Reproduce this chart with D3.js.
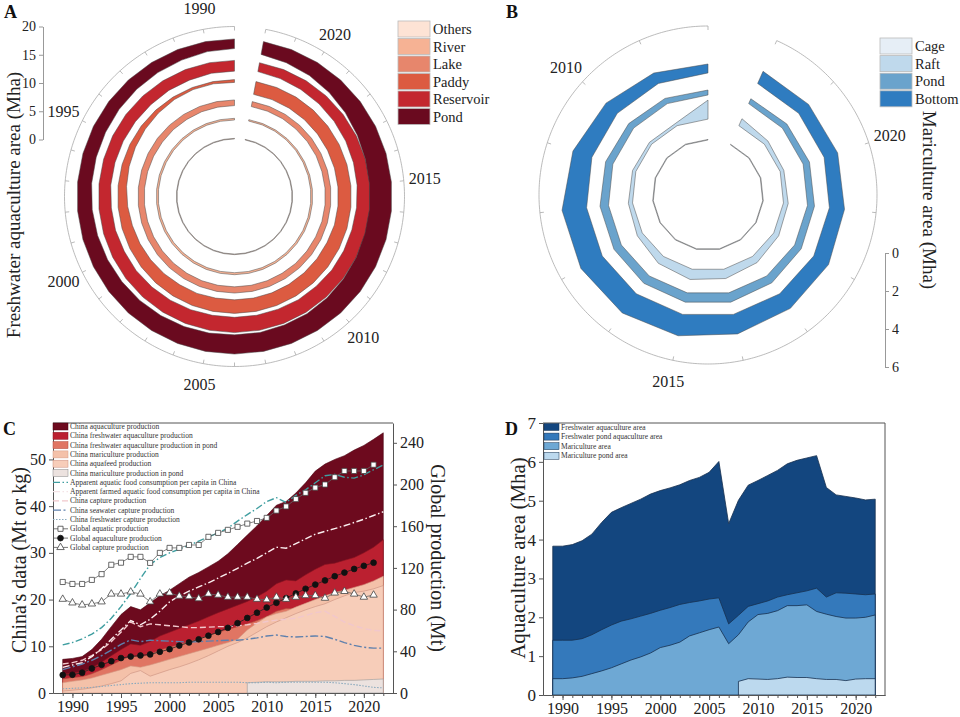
<!DOCTYPE html>
<html><head><meta charset="utf-8">
<script src="https://cdn.jsdelivr.net/npm/d3@7"></script>
<style>
body{margin:0;background:#fff}
svg{display:block}
text{font-family:"Liberation Serif","Times New Roman",Times,serif}
</style>
</head><body>
<svg id="chart" width="960" height="717"></svg>
<script>
// ================= DATA =================
// Panel A: freshwater aquaculture area by type (Mha), 1989-2022
const yearsA = [1989,1990,1991,1992,1993,1994,1995,1996,1997,1998,1999,2000,2001,2002,2003,2004,2005,2006,2007,2008,2009,2010,2011,2012,2013,2014,2015,2016,2017,2018,2019,2020,2021,2022];
const categoriesA = ['Others','River','Lake','Paddy','Reservoir','Pond'];
const aOthers    = [0.10,0.10,0.10,0.10,0.10,0.10,0.10,0.10,0.10,0.10,0.10,0.10,0.10,0.10,0.10,0.10,0.10,0.10,0.10,0.10,0.10,0.10,0.10,0.10,0.10,0.10,0.10,0.10,0.10,0.10,0.10,0.10,0.10,0.10];
const aRiver     = [0.30,0.30,0.30,0.30,0.32,0.32,0.33,0.33,0.34,0.34,0.35,0.35,0.35,0.35,0.35,0.35,0.35,0.35,0.34,0.34,0.33,0.33,0.33,0.32,0.32,0.31,0.31,0.30,0.29,0.28,0.27,0.26,0.25,0.25];
const aLake      = [1.00,1.00,1.00,1.05,1.05,1.10,1.10,1.10,1.10,1.10,1.10,1.10,1.10,1.10,1.10,1.10,1.10,1.10,1.10,1.10,1.10,1.05,1.05,1.05,1.00,1.00,1.00,1.00,0.95,0.95,0.95,0.90,0.90,0.90];
const aPaddy     = [0.50,0.40,0.40,0.50,0.70,0.90,1.10,1.30,1.50,1.70,1.90,2.00,2.10,2.20,2.30,2.30,2.40,2.40,2.40,2.40,2.40,2.40,2.40,2.40,2.30,2.30,2.30,2.30,2.30,2.30,2.30,2.30,2.30,2.30];
const aReservoir = [1.90,1.90,2.00,2.00,2.10,2.10,2.10,2.10,2.10,2.20,2.20,2.30,2.30,2.40,2.50,2.60,2.70,2.70,2.70,2.70,2.60,2.60,2.50,2.50,2.50,2.40,2.30,2.20,2.10,2.00,1.90,1.80,1.70,1.60];
const aPond      = [1.70,1.80,2.00,2.10,2.20,2.30,2.40,2.45,2.50,2.60,2.70,2.80,2.90,3.00,3.10,3.20,3.30,3.40,3.40,3.50,3.50,3.60,3.70,3.80,3.90,3.90,3.90,3.80,3.60,3.30,3.00,2.70,2.50,2.30];
const aRingOuter = [0.2, 3.75, 7.0, 10.6, 14.0, 17.8];   // fixed outer edge of each ring (Mha on radial scale)
const aRadialTicks = [0,5,10,15,20];
const aLabelYears = [1990,1995,2000,2005,2010,2015,2020];

// Panel B: mariculture area by type (Mha), 2008-2022
const yearsB = [2008,2009,2010,2011,2012,2013,2014,2015,2016,2017,2018,2019,2020,2021,2022];
const categoriesB = ['Cage','Raft','Pond','Bottom'];
const bCage   = [0.03,0.03,0.03,0.03,0.03,0.03,0.03,0.03,0.03,0.03,0.03,0.03,0.03,0.03,0.03];
const bRaft   = [1.00,0.15,0.15,0.18,0.22,0.30,0.45,0.55,0.50,0.40,0.30,0.25,0.20,0.25,0.40];
const bPond   = [0.26,0.30,0.35,0.40,0.45,0.45,0.48,0.50,0.50,0.45,0.40,0.37,0.35,0.32,0.28];
const bBottom = [0.47,0.60,0.80,1.05,1.30,1.30,1.25,1.15,1.05,0.95,0.90,0.80,0.75,0.70,0.70];
const bRingInner = [0, 1.1, 2.37, 3.53];
const bRadialTicks = [0,2,4,6];
const bLabelYears = [2010,2015,2020];

// Panel C: production (China: Mt or kg; global: Mt)
const yearsC = [1989,1990,1991,1992,1993,1994,1995,1996,1997,1998,1999,2000,2001,2002,2003,2004,2005,2006,2007,2008,2009,2010,2011,2012,2013,2014,2015,2016,2017,2018,2019,2020,2021,2022];
const cAquaculture = [7.2,7.4,7.8,9.3,11.5,14.2,16.8,18.5,17.8,19.3,20.8,22.0,23.4,24.8,25.8,27.0,28.2,29.8,31.8,33.8,35.8,38.0,40.2,41.0,42.8,45.0,47.5,49.0,50.0,50.8,52.0,53.0,54.3,55.7];
const cFreshwater  = [4.0,4.3,4.6,5.4,6.6,8.0,9.3,10.5,10.2,11.0,12.2,13.0,13.8,14.6,15.4,16.3,17.2,18.0,18.8,19.6,20.6,21.8,23.4,24.2,24.0,25.3,26.5,27.5,27.8,28.4,29.0,30.0,31.2,32.8];
const cFwPond      = [3.0,3.3,3.5,4.1,5.0,6.0,7.0,7.9,7.7,8.3,9.2,9.8,10.4,11.0,11.6,12.3,13.0,13.6,14.2,14.8,15.5,16.4,17.5,18.1,18.0,19.0,19.9,20.6,20.9,21.3,21.8,22.5,23.4,24.6];
const cMariculture = [2.2,2.5,2.8,3.2,3.8,4.4,5.0,5.8,5.5,6.0,6.6,7.2,7.8,8.4,9.0,9.6,10.2,10.8,11.5,13.5,15.0,16.3,17.0,17.5,18.4,19.2,20.0,20.8,21.5,22.0,22.6,23.2,24.0,25.0];
const cAquafeed    = [0.4,0.6,0.8,1.1,1.5,2.0,2.6,4.2,4.8,3.6,4.3,5.0,5.6,6.3,7.1,8.0,9.0,10.0,10.8,11.8,13.0,14.2,15.2,16.1,17.0,17.8,18.5,19.1,20.0,20.8,21.5,21.8,22.3,23.0];
const cMariPond    = [null,null,null,null,null,null,null,null,null,null,null,null,null,null,null,null,null,null,null,2.2,2.3,2.4,2.4,2.4,2.5,2.5,2.5,2.6,2.6,2.7,2.7,2.8,2.9,3.0];
const cAppCons     = [10.3,10.8,11.6,12.6,14.0,16.0,18.5,21.3,24.5,27.5,29.0,30.0,30.8,31.6,32.5,33.4,34.3,35.3,36.8,38.2,39.5,41.0,41.8,40.8,42.3,43.5,45.0,46.5,46.8,46.2,46.0,46.7,47.8,48.8];
const cAppFarmed   = [5.5,6.0,6.5,7.8,9.5,11.5,13.5,15.5,14.6,15.8,17.5,19.5,20.8,21.8,22.7,23.6,24.6,25.6,26.7,27.8,28.8,30.0,31.2,31.0,32.0,33.0,34.0,34.6,35.2,35.8,36.5,37.2,38.0,38.8];
const cCapture     = [6.2,6.5,7.0,8.0,9.3,11.0,13.0,15.2,14.2,14.8,14.6,14.4,14.2,14.0,14.0,14.1,14.2,14.2,14.4,14.6,14.9,15.3,15.6,15.8,16.0,16.6,17.2,17.5,16.4,15.2,14.4,13.8,13.4,13.3];
const cSeaCapture  = [5.0,5.6,6.2,7.0,8.0,9.2,10.4,11.4,11.0,11.3,11.2,11.1,11.0,10.9,11.0,11.1,11.2,11.3,11.3,11.5,11.8,12.2,12.4,12.1,12.0,12.1,12.2,12.1,11.5,10.8,10.2,9.8,9.6,9.6];
const cFwCapture   = [0.9,1.0,1.1,1.2,1.4,1.6,1.8,2.0,2.1,2.2,2.2,2.2,2.2,2.3,2.3,2.3,2.3,2.3,2.3,2.2,2.2,2.3,2.2,2.3,2.3,2.3,2.3,2.3,2.2,2.0,1.8,1.5,1.2,1.1];
const yearsGlobal  = [1989,1990,1991,1992,1993,1994,1995,1996,1997,1998,1999,2000,2001,2002,2003,2004,2005,2006,2007,2008,2009,2010,2011,2012,2013,2014,2015,2016,2017,2018,2019,2020,2021];
const gAquatic     = [106.5,104.6,104.6,108.5,114.0,123.0,125.0,130.6,130.6,124.8,134.4,139.2,139.2,142.0,142.0,149.8,153.6,156.5,159.4,162.5,165.0,168.0,175.0,179.0,186.0,192.0,197.0,200.0,207.0,213.0,213.0,213.0,219.0];
const gAquaculture = [17.3,17.5,19.5,23.5,27.0,30.5,33.5,35.0,36.0,37.0,39.5,42.0,45.5,48.5,51.5,55.0,58.5,62.5,67.0,72.0,77.0,82.0,86.5,91.0,95.5,100.0,104.0,108.0,112.0,115.5,119.0,122.0,125.0];
const gCapture     = [90.0,86.5,84.5,85.5,87.5,95.0,95.0,97.0,95.0,87.5,95.0,96.0,93.0,92.5,90.5,95.0,94.0,92.0,92.0,92.0,90.0,89.5,92.0,90.0,92.0,93.5,93.5,91.0,96.0,97.5,95.0,92.0,94.0];
const cLeftTicks  = [0,10,20,30,40,50];
const cRightTicks = [0,40,80,120,160,200,240];
const xTickYears  = [1990,1995,2000,2005,2010,2015,2020];

// Panel D: aquaculture area (Mha)
const yearsD = [1989,1990,1991,1992,1993,1994,1995,1996,1997,1998,1999,2000,2001,2002,2003,2004,2005,2006,2007,2008,2009,2010,2011,2012,2013,2014,2015,2016,2017,2018,2019,2020,2021,2022];
const dFreshwater  = [3.83,3.83,3.87,3.97,4.14,4.44,4.70,4.82,4.93,5.04,5.17,5.26,5.33,5.41,5.52,5.60,5.73,6.01,4.41,5.01,5.40,5.52,5.65,5.78,5.95,6.04,6.10,6.16,5.34,5.15,5.11,5.07,5.02,5.04];
const dFwPond      = [1.41,1.41,1.41,1.45,1.55,1.68,1.80,1.90,1.96,2.03,2.10,2.18,2.25,2.33,2.38,2.42,2.47,2.50,1.83,2.05,2.28,2.35,2.42,2.52,2.58,2.63,2.68,2.75,2.52,2.63,2.62,2.60,2.58,2.60];
const dMariculture = [0.42,0.42,0.44,0.48,0.55,0.62,0.70,0.80,0.90,0.98,1.08,1.22,1.28,1.36,1.52,1.60,1.68,1.75,1.32,1.55,1.88,2.07,2.10,2.17,2.30,2.30,2.32,2.15,2.08,2.02,1.98,1.98,2.00,2.06];
const dMariPond    = [null,null,null,null,null,null,null,null,null,null,null,null,null,null,null,null,null,null,null,0.35,0.42,0.41,0.40,0.42,0.46,0.45,0.45,0.42,0.40,0.40,0.37,0.41,0.42,0.42];
const dTicks = [0,1,2,3,4,5,6,7];

// ================= DRAWING =================
const svg = d3.select('#chart');
const TXT = '#222';
const fmtInt = d3.format('d');

function drawPolar(o) {
  const g = svg.append('g').attr('transform', `translate(${o.cx},${o.cy})`);
  const n = o.years.length, step = 2 * Math.PI / n;
  const ang = i => -i * step;
  const R = o.r(o.frameVal);
  const frame = d3.range(0, 401).map(k => -(n - 1) * step * k / 400);
  g.append('path').attr('d', d3.lineRadial().angle(a => a).radius(R)(frame))
    .attr('fill', 'none').attr('stroke', '#aaa').attr('stroke-width', 0.8);
  o.years.forEach((y, i) => {
    const a = ang(i);
    g.append('line')
      .attr('x1', (R - 4) * Math.sin(a)).attr('y1', -(R - 4) * Math.cos(a))
      .attr('x2', R * Math.sin(a)).attr('y2', -R * Math.cos(a))
      .attr('stroke', '#aaa').attr('stroke-width', 0.8);
  });
  o.series.forEach((vals, k) => {
    const area = d3.areaRadial().angle((d, i) => ang(i)).curve(d3.curveLinear);
    if (o.mode === 'outer') {
      area.outerRadius(() => o.r(o.bases[k])).innerRadius(d => o.r(o.bases[k] - d));
    } else {
      area.innerRadius(() => o.r(o.bases[k])).outerRadius(d => o.r(o.bases[k] + d));
    }
    g.append('path').attr('d', area(vals)).attr('fill', o.colors[k])
      .attr('stroke', '#4a4a4a').attr('stroke-width', 0.5);
  });
  o.labelYears.forEach(y => {
    const a = ang(o.years.indexOf(y));
    g.append('text').attr('x', o.labelR * Math.sin(a)).attr('y', -o.labelR * Math.cos(a))
      .attr('text-anchor', 'middle').attr('dominant-baseline', 'central')
      .attr('font-size', 16).attr('fill', TXT).text(y);
  });
}

function boxLegend(x, y0, dy, names, colors) {
  names.forEach((nm, i) => {
    svg.append('rect').attr('x', x).attr('y', y0 + i * dy).attr('width', 32).attr('height', 16)
      .attr('fill', colors[i]).attr('stroke', '#bbb').attr('stroke-width', 0.8);
    svg.append('text').attr('x', x + 35).attr('y', y0 + i * dy + 13).attr('font-size', 14.5)
      .attr('fill', TXT).text(nm);
  });
}

function styleAxis(g, fs) {
  g.selectAll('.domain').attr('stroke', '#555');
  g.selectAll('.tick line').attr('stroke', '#555');
  g.selectAll('.tick text').attr('font-size', fs).attr('fill', TXT)
    .attr('font-family', '"Liberation Serif","Times New Roman",serif');
  return g;
}

// ---------- Panel A ----------
const colorsA = ['#fde3d5', '#f6b294', '#e7866c', '#dc5b41', '#c3272f', '#6a0a1f'];
const rA = d3.scaleLinear([0, 20], [57, 170]);
drawPolar({cx: 234.5, cy: 196.5, years: yearsA, r: rA, frameVal: 20, mode: 'outer',
  series: [aOthers, aRiver, aLake, aPaddy, aReservoir, aPond], bases: aRingOuter,
  colors: colorsA, labelYears: aLabelYears, labelR: 191});
boxLegend(398, 21, 17.5, categoriesA, colorsA);
const axA = d3.scaleLinear([0, 20], [196.5 - 57, 196.5 - 170]);
styleAxis(svg.append('g').attr('transform', 'translate(43,0)')
  .call(d3.axisLeft(axA).tickValues(aRadialTicks).tickFormat(fmtInt).tickSize(4).tickSizeOuter(0)), 14)
  .selectAll('.domain,.tick line').attr('stroke', '#999');
svg.append('text').attr('transform', 'translate(20,205) rotate(-90)').attr('text-anchor', 'middle')
  .attr('font-size', 19).attr('fill', TXT).text('Freshwater aquaculture area (Mha)');
svg.append('text').attr('x', 4).attr('y', 18).attr('font-size', 18).attr('font-weight', 'bold').attr('fill', '#111').text('A');

// ---------- Panel B ----------
const colorsB = ['#e6eef6', '#bfd9ec', '#6aa3cc', '#2f7cc0'];
const rB = d3.scaleLinear([0, 6], [55, 169]);
drawPolar({cx: 708, cy: 195, years: yearsB, r: rB, frameVal: 6, mode: 'inner',
  series: [bCage, bRaft, bPond, bBottom], bases: bRingInner,
  colors: colorsB, labelYears: bLabelYears, labelR: 191});
boxLegend(880, 38, 17.6, categoriesB, colorsB);
const axB = d3.scaleLinear([0, 6], [253, 367]);
styleAxis(svg.append('g').attr('transform', 'translate(885,0)')
  .call(d3.axisRight(axB).tickValues(bRadialTicks).tickFormat(fmtInt).tickSize(4).tickSizeOuter(0)), 14)
  .selectAll('.domain,.tick line').attr('stroke', '#999');
svg.append('text').attr('transform', 'translate(923,200) rotate(90)').attr('text-anchor', 'middle')
  .attr('font-size', 19).attr('fill', TXT).text('Mariculture area (Mha)');
svg.append('text').attr('x', 506).attr('y', 18).attr('font-size', 18).attr('font-weight', 'bold').attr('fill', '#111').text('B');

// ---------- Panel C ----------
const xC = d3.scaleLinear([1988, 2023], [53, 393]);
const yC = d3.scaleLinear([0, 57.8], [693, 423]);
const yC2 = d3.scaleLinear([0, 259], [693, 423]);
const gC = svg.append('g');
const areaC = d3.area().defined(d => d != null).x((d, i) => xC(yearsC[i])).y0(yC(0)).y1(d => yC(d));
const cAreas = [
  {name: 'China aquaculture production', v: cAquaculture, fill: '#6d0a1e', stroke: '#4a0512'},
  {name: 'China freshwater aquaculture production', v: cFreshwater, fill: '#bb2030', stroke: '#8a1420'},
  {name: 'China freshwater aquaculture production in pond', v: cFwPond, fill: '#e07563', stroke: '#b04a3c'},
  {name: 'China mariculture production', v: cMariculture, fill: '#f4c1a9', stroke: '#d49a85'},
  {name: 'China aquafeed production', v: cAquafeed, fill: '#f7cdb9', stroke: '#c98f7e'},
  {name: 'China mariculture production in pond', v: cMariPond, fill: '#ece2df', stroke: '#999'}
];
cAreas.forEach(a => gC.append('path').attr('d', areaC(a.v)).attr('fill', a.fill)
  .attr('stroke', a.stroke).attr('stroke-width', 0.6));
const lineC = d3.line().defined(d => d != null).x((d, i) => xC(yearsC[i])).y(d => yC(d));
const cLines = [
  {name: 'Apparent aquatic food consumption per capita in China', v: cAppCons, color: '#3f9ea0', dash: '7,2.5,1.5,2.5', w: 1.4},
  {name: 'Apparent farmed aquatic food consumption per capita in China', v: cAppFarmed, color: '#fbeff0', dash: '7,2.5,1.5,2.5', w: 1.4},
  {name: 'China capture production', v: cCapture, color: '#f1c7cc', dash: '6,3', w: 1.4},
  {name: 'China seawater capture production', v: cSeaCapture, color: '#5f80ad', dash: '8,2.5,2,2.5', w: 1.4},
  {name: 'China freshwater capture production', v: cFwCapture, color: '#8aa9bd', dash: '1.5,1.5', w: 1.1}
];
[cLines[4], cLines[3], cLines[2], cLines[1], cLines[0]].forEach(l => gC.append('path').attr('d', lineC(l.v))
  .attr('fill', 'none').attr('stroke', l.color).attr('stroke-width', l.w).attr('stroke-dasharray', l.dash));
const lineG = d3.line().x((d, i) => xC(yearsGlobal[i])).y(d => yC2(d));
const sq = d3.symbol(d3.symbolSquare, 26), tri = d3.symbol(d3.symbolTriangle, 24), cir = d3.symbol(d3.symbolCircle, 26);
const gSeries = [
  {name: 'Global aquatic production', v: gAquatic, line: '#666', sym: sq, fill: '#fff', stroke: '#444'},
  {name: 'Global aquaculture production', v: gAquaculture, line: '#222', sym: cir, fill: '#111', stroke: '#111'},
  {name: 'Global capture production', v: gCapture, line: '#666', sym: tri, fill: '#fff', stroke: '#444'}
];
gSeries.forEach(s => {
  gC.append('path').attr('d', lineG(s.v)).attr('fill', 'none').attr('stroke', s.line).attr('stroke-width', 0.8);
  s.v.forEach((d, i) => gC.append('path').attr('d', s.sym())
    .attr('transform', `translate(${xC(yearsGlobal[i])},${yC2(d)})`)
    .attr('fill', s.fill).attr('stroke', s.stroke).attr('stroke-width', 0.8));
});
// frame
svg.append('line').attr('x1', 53).attr('x2', 393).attr('y1', 423).attr('y2', 423).attr('stroke', '#555');
styleAxis(svg.append('g').attr('transform', 'translate(53,0)')
  .call(d3.axisLeft(yC).tickValues(cLeftTicks).tickFormat(fmtInt).tickSize(4).tickSizeOuter(0)), 16);
styleAxis(svg.append('g').attr('transform', 'translate(393,0)')
  .call(d3.axisRight(yC2).tickValues(cRightTicks).tickFormat(fmtInt).tickSize(4).tickSizeOuter(0)), 16);
styleAxis(svg.append('g').attr('transform', 'translate(0,693)')
  .call(d3.axisBottom(xC).tickValues(yearsC).tickSize(3).tickSizeOuter(0).tickFormat(() => '')), 16);
styleAxis(svg.append('g').attr('transform', 'translate(0,693)')
  .call(d3.axisBottom(xC).tickValues(xTickYears).tickSize(5).tickSizeOuter(0).tickFormat(fmtInt)), 16);
// legend C
const legC = svg.append('g');
const rowsC = [...cAreas.map(a => ({type: 'area', ...a})), ...cLines.map(l => ({type: 'line', ...l})), ...gSeries.map(s => ({type: 'glob', ...s}))];
rowsC.forEach((r, i) => {
  const y = 426.5 + i * 9.3;
  if (r.type === 'area') {
    legC.append('rect').attr('x', 53).attr('y', y - 3.5).attr('width', 15).attr('height', 7)
      .attr('fill', r.fill).attr('stroke', r.fill === '#ece2df' ? '#888' : r.stroke).attr('stroke-width', 0.5);
  } else if (r.type === 'line') {
    legC.append('line').attr('x1', 53).attr('x2', 68).attr('y1', y).attr('y2', y)
      .attr('stroke', r.color === '#fbeff0' ? '#f3e3e6' : r.color).attr('stroke-width', 1.2).attr('stroke-dasharray', r.dash);
  } else {
    legC.append('line').attr('x1', 53).attr('x2', 68).attr('y1', y).attr('y2', y).attr('stroke', '#555').attr('stroke-width', 0.8);
    legC.append('path').attr('d', r.sym()).attr('transform', `translate(60.5,${y})`)
      .attr('fill', r.fill).attr('stroke', r.stroke).attr('stroke-width', 0.8);
  }
  legC.append('text').attr('x', 70).attr('y', y + 2.5).attr('font-size', 7.5).attr('fill', '#333').text(r.name);
});
svg.append('text').attr('transform', 'translate(26,560) rotate(-90)').attr('text-anchor', 'middle')
  .attr('font-size', 20).attr('fill', TXT).text("China's data (Mt or kg)");
svg.append('text').attr('transform', 'translate(431,558) rotate(90)').attr('text-anchor', 'middle')
  .attr('font-size', 20).attr('fill', TXT).text('Global production (Mt)');
svg.append('text').attr('x', 3).attr('y', 435).attr('font-size', 18).attr('font-weight', 'bold').attr('fill', '#111').text('C');

// ---------- Panel D ----------
const xD = d3.scaleLinear([1988, 2023], [543, 885]);
const yD = d3.scaleLinear([0, 7], [695, 423]);
const areaD = d3.area().defined(d => d != null).x((d, i) => xD(yearsD[i])).y0(yD(0)).y1(d => yD(d));
const dAreas = [
  {name: 'Freshwater aquaculture area', v: dFreshwater, fill: '#13467f'},
  {name: 'Freshwater pond aquaculture area', v: dFwPond, fill: '#3479bb'},
  {name: 'Mariculture area', v: dMariculture, fill: '#6ea8d4'},
  {name: 'Mariculture pond area', v: dMariPond, fill: '#bcd9ee'}
];
dAreas.forEach(a => svg.append('path').attr('d', areaD(a.v)).attr('fill', a.fill)
  .attr('stroke', '#17304f').attr('stroke-width', 0.8));
svg.append('line').attr('x1', 543).attr('x2', 885).attr('y1', 423).attr('y2', 423).attr('stroke', '#555');
svg.append('line').attr('x1', 885).attr('x2', 885).attr('y1', 423).attr('y2', 695).attr('stroke', '#555');
styleAxis(svg.append('g').attr('transform', 'translate(543,0)')
  .call(d3.axisLeft(yD).tickValues(dTicks).tickFormat(fmtInt).tickSize(4).tickSizeOuter(0)), 17);
styleAxis(svg.append('g').attr('transform', 'translate(0,695)')
  .call(d3.axisBottom(xD).tickValues(yearsD).tickSize(3).tickSizeOuter(0).tickFormat(() => '')), 16);
styleAxis(svg.append('g').attr('transform', 'translate(0,695)')
  .call(d3.axisBottom(xD).tickValues(xTickYears).tickSize(5).tickSizeOuter(0).tickFormat(fmtInt)), 16);
dAreas.forEach((a, i) => {
  const y = 427 + i * 9.6;
  svg.append('rect').attr('x', 544).attr('y', y - 3.5).attr('width', 15).attr('height', 7)
    .attr('fill', a.fill).attr('stroke', '#17304f').attr('stroke-width', 0.5);
  svg.append('text').attr('x', 561).attr('y', y + 2.5).attr('font-size', 7.5).attr('fill', '#333').text(a.name);
});
svg.append('text').attr('transform', 'translate(525,558) rotate(-90)').attr('text-anchor', 'middle')
  .attr('font-size', 21).attr('fill', TXT).text('Aquaculture area (Mha)');
svg.append('text').attr('x', 505).attr('y', 435).attr('font-size', 18).attr('font-weight', 'bold').attr('fill', '#111').text('D');
</script>
</body></html>
